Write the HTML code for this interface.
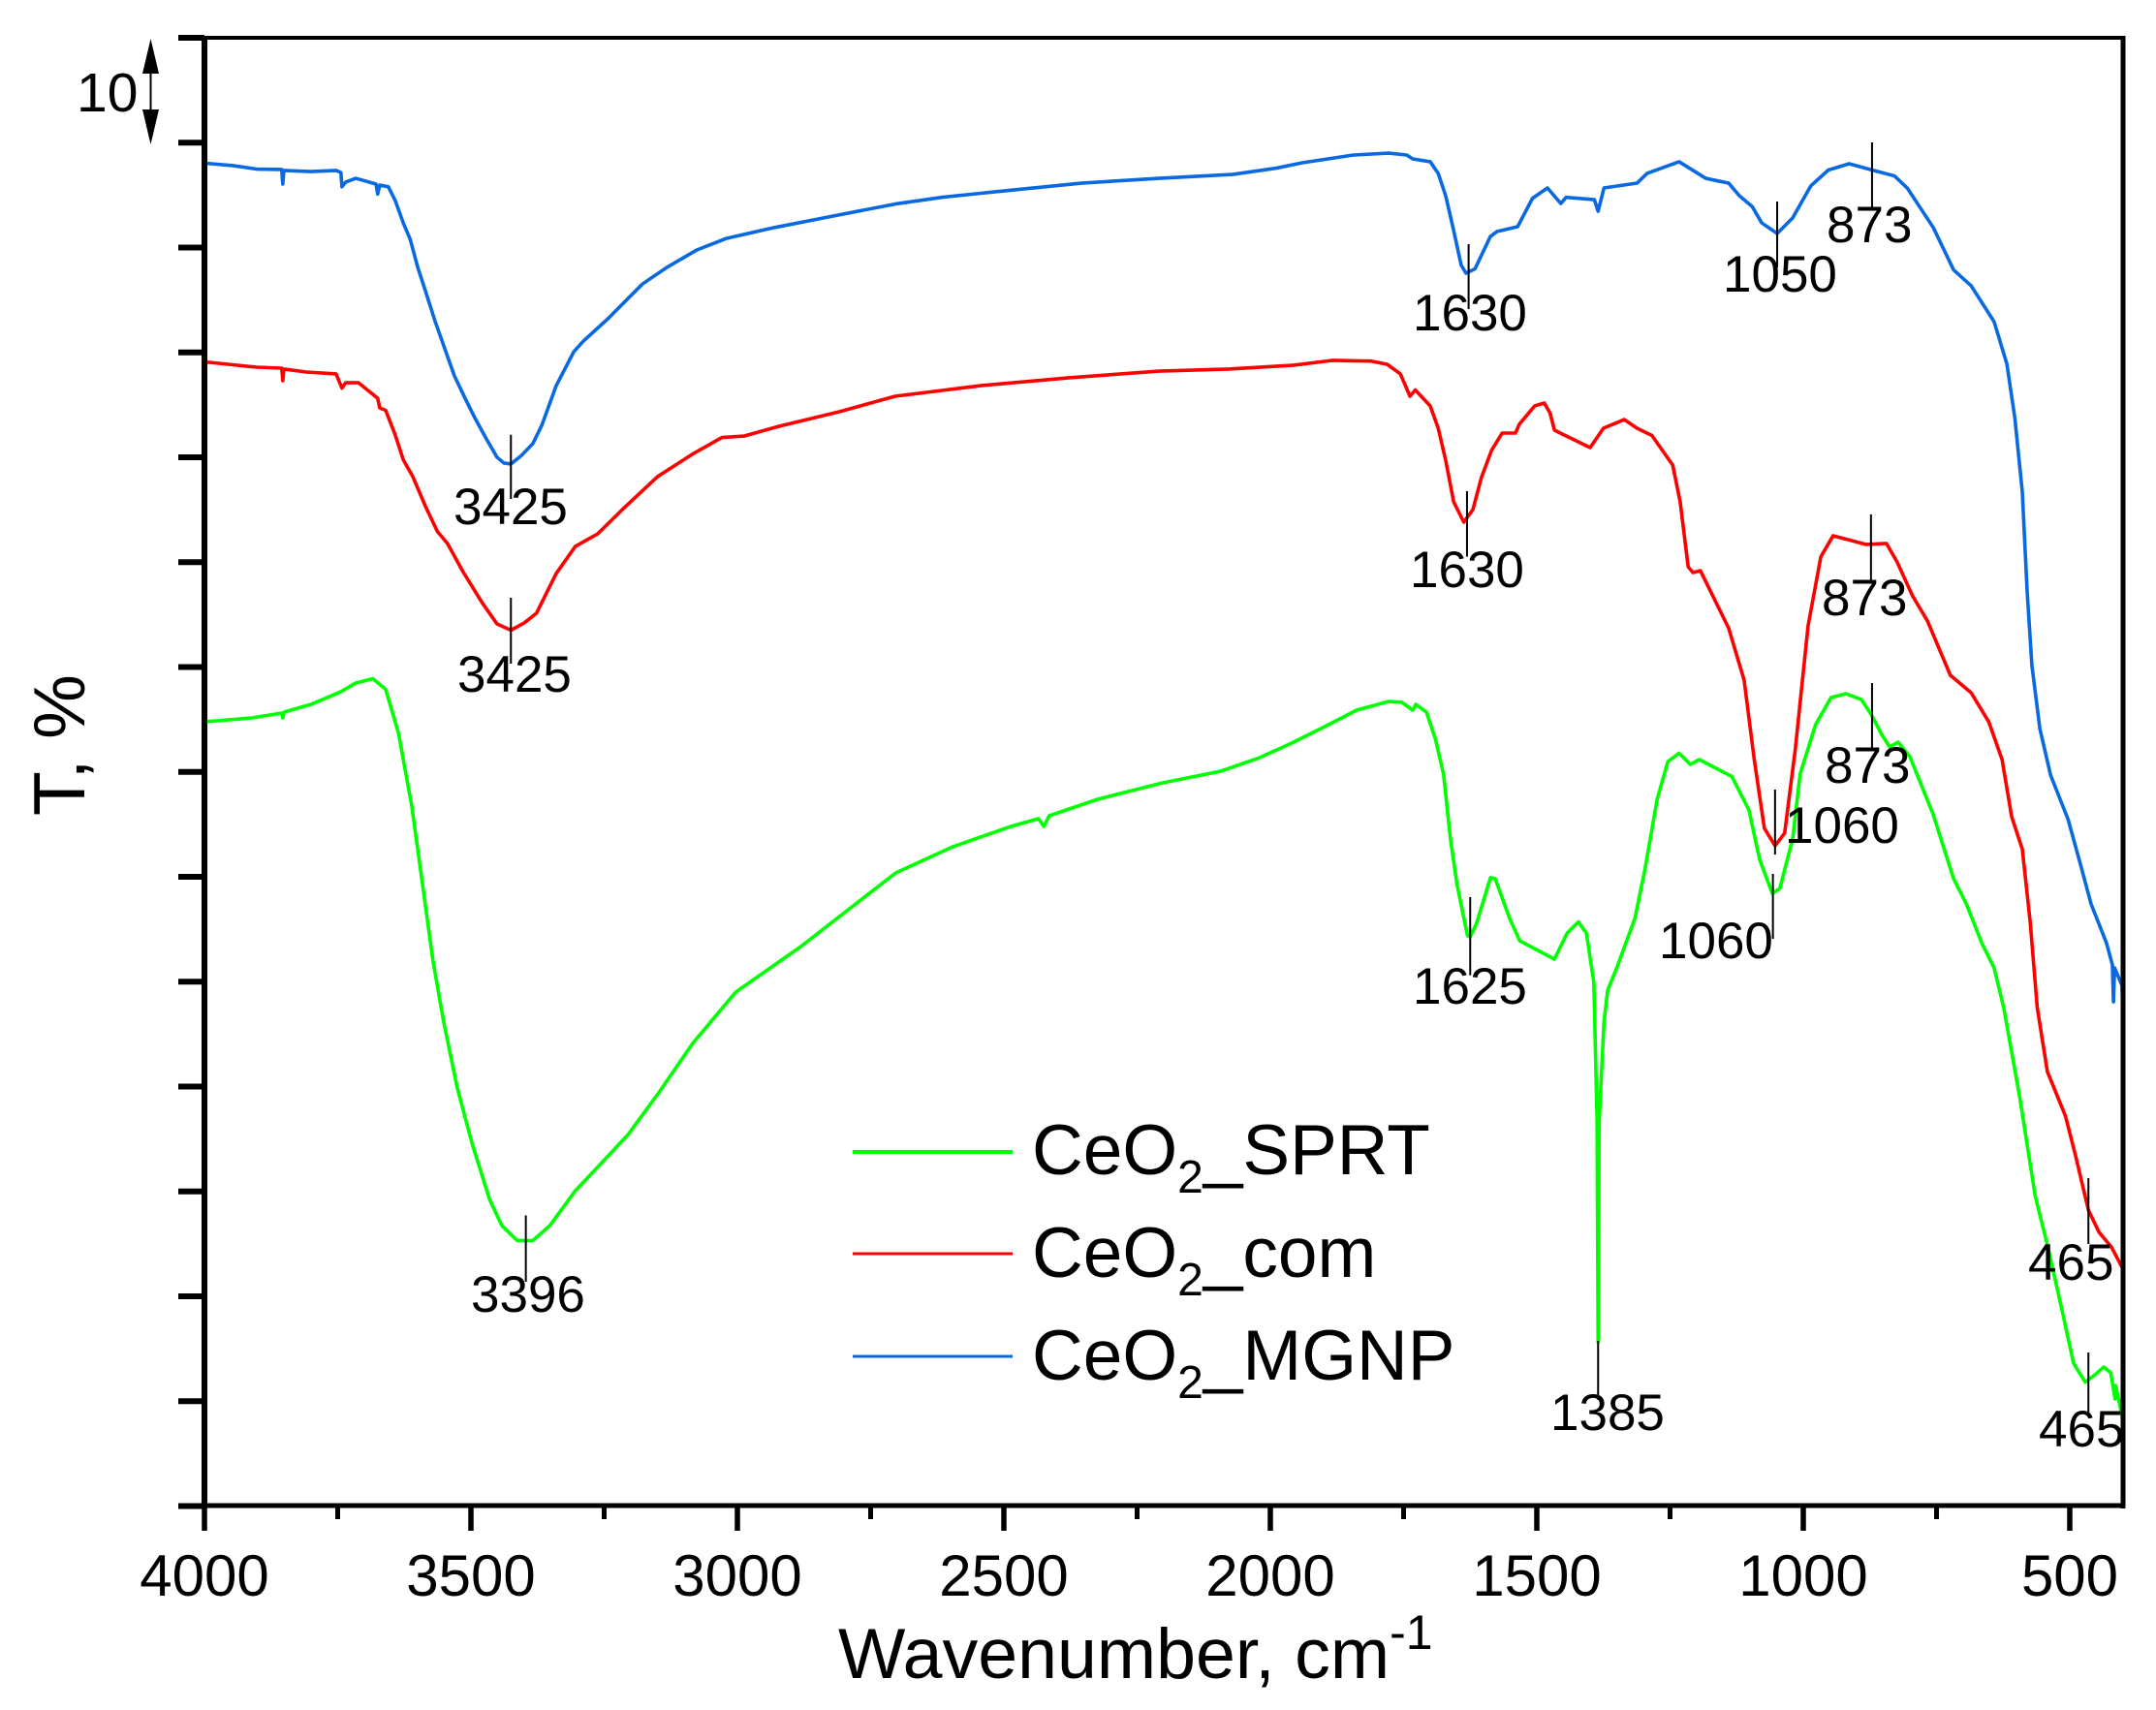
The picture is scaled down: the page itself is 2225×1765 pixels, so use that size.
<!DOCTYPE html>
<html>
<head>
<meta charset="utf-8">
<title>FTIR spectra of CeO2 samples</title>
<style>
html,body{margin:0;padding:0;background:#fff;}
svg{display:block;font-family:"Liberation Sans",Arial,sans-serif;fill:#000;}
</style>
</head>
<body>
<svg id="chart" xmlns="http://www.w3.org/2000/svg" width="2225" height="1765" viewBox="0 0 2225 1765">
  <rect x="0" y="0" width="2225" height="1765" fill="#fff"/>
  <g id="series"></g>
  <g id="markers"></g>
  <g id="axes"></g>

  <g font-size="53">
    <text x="468" y="541">3425</text>
    <text x="472" y="714">3425</text>
    <text x="486" y="1354">3396</text>
    <text x="1458" y="341">1630</text>
    <text x="1778" y="301">1050</text>
    <text x="1885" y="250">873</text>
    <text x="1455" y="606">1630</text>
    <text x="1880" y="635">873</text>
    <text x="1883" y="808">873</text>
    <text x="1842" y="870">1060</text>
    <text x="1458" y="1036">1625</text>
    <text x="1712" y="989">1060</text>
    <text x="1600" y="1476">1385</text>
    <text x="2093" y="1321">465</text>
    <text x="2104" y="1493">465</text>
  </g>

  <g>
    <g>
      <line x1="880" x2="1045" y1="1189" y2="1189" stroke="#00ff00" stroke-width="4"/>
      <text x="1065" y="1212" font-size="73">CeO<tspan font-size="48" dy="19">2</tspan><tspan dy="-19">_SPRT</tspan></text>
    </g>
    <g>
      <line x1="880" x2="1045" y1="1294" y2="1294" stroke="#ff0000" stroke-width="3"/>
      <text x="1065" y="1318" font-size="73">CeO<tspan font-size="48" dy="19">2</tspan><tspan dy="-19">_com</tspan></text>
    </g>
    <g>
      <line x1="880" x2="1045" y1="1400" y2="1400" stroke="#0869e0" stroke-width="3"/>
      <text x="1065" y="1424" font-size="73">CeO<tspan font-size="48" dy="19">2</tspan><tspan dy="-19">_MGNP</tspan></text>
    </g>
  </g>

  <text x="865" y="1732" font-size="73.5">Wavenumber, cm<tspan font-size="50" dy="-30">-1</tspan></text>
  <text transform="translate(87,842) rotate(-90)" font-size="75">T, %</text>

  <g>
    <text x="79" y="115" font-size="57">10</text>
    <line x1="155.5" x2="155.5" y1="70" y2="118" stroke="#000" stroke-width="2"/>
    <polygon points="155.5,40 147,76 164,76" fill="#000"/>
    <polygon points="155.5,149 147,113 164,113" fill="#000"/>
  </g>
</svg>
<script>
// Category / tick data
const xTickValues = [4000,3500,3000,2500,2000,1500,1000,500];
const xMinorTickValues = [3750,3250,2750,2250,1750,1250,750];
const xTickLabels = ["4000","3500","3000","2500","2000","1500","1000","500"];
const yTickValues = [0,10,20,30,40,50,60,70,80,90,100,110,120,130,140];

// CeO2_MGNP
const blueWave = [4000,3947,3902,3855,3853,3851,3800,3753,3744,3742,3735,3716,3678,3675,3671,3655,3642,3627,3614,3600,3585,3567,3549,3531,3511,3493,3470,3451,3438,3425,3405,3384,3367,3340,3307,3289,3243,3178,3131,3076,3020,2931,2825,2704,2615,2500,2355,2209,2071,1989,1940,1844,1778,1744,1733,1700,1685,1671,1656,1642,1633,1616,1587,1575,1536,1508,1480,1455,1445,1392,1385,1374,1312,1293,1233,1183,1140,1120,1096,1078,1049,1020,986,953,914,871,829,805,756,718,685,642,618,603,589,580,571,556,536,503,480,460,431,420,418,416,402,400];
const blueT = [128.05,127.81,127.48,127.44,126.05,127.35,127.25,127.35,127.16,125.79,126.24,126.6,126.05,125.1,125.96,125.79,124.48,122.35,120.79,118.15,115.8,112.93,110.35,107.76,105.63,103.79,101.66,100,99.45,99.36,100.18,101.29,103.05,106.83,110.06,111.08,113.21,116.53,118.15,119.77,120.88,121.9,122.96,124.15,124.8,125.4,126.14,126.6,126.97,127.57,128.08,128.82,129,128.82,128.45,128.18,127.07,124.94,121.62,118.34,117.55,117.97,121.06,121.52,121.99,124.7,125.68,124.2,124.79,124.57,123.46,125.68,126.14,127.07,128.18,126.6,126.14,124.94,123.92,122.35,121.34,122.82,125.87,127.39,127.99,127.39,126.83,125.68,121.9,117.87,116.35,112.93,108.91,103.73,96.67,87.25,80.14,74.1,69.7,65.45,61.2,57.41,53.67,51.6,48.08,51.32,49.65,46.6];

// CeO2_com
const redWave = [4000,3947,3902,3855,3853,3851,3809,3753,3742,3735,3711,3675,3671,3660,3642,3627,3609,3585,3563,3544,3516,3479,3451,3425,3400,3377,3340,3304,3262,3215,3150,3085,3029,2987,2922,2809,2704,2542,2378,2209,2078,1956,1884,1811,1781,1756,1738,1728,1700,1685,1671,1656,1637,1620,1604,1585,1565,1540,1533,1504,1486,1475,1467,1456,1400,1375,1336,1312,1284,1245,1231,1216,1207,1193,1140,1111,1092,1073,1053,1035,1015,991,967,944,882,844,824,795,767,724,685,652,627,609,589,574,561,542,508,489,465,445,422,400];
const redT = [109.1,108.82,108.59,108.5,107.3,108.41,108.13,107.95,106.6,107.11,107.11,105.63,104.7,104.48,102.13,99.77,98.15,95.29,92.93,91.78,89.19,86.14,84.11,83.51,84.21,85.13,88.92,91.51,92.71,95.06,98.15,100.28,101.89,102.03,102.96,104.34,105.82,106.84,107.58,108.22,108.41,108.78,109.24,109.17,108.87,107.95,105.82,106.42,104.9,102.77,99.72,95.75,93.81,95.01,98.06,100.65,102.31,102.31,103.14,104.9,105.18,104.2,102.6,102.31,100.92,102.77,103.6,102.77,102.08,99.26,95.75,89.56,89.01,89.19,83.7,78.75,71.18,64.62,62.96,64.16,72.15,83.93,90.53,92.52,91.69,91.78,90.02,86.79,84.39,79.21,77.55,74.78,71.18,65.73,62.63,55.57,47.53,41.43,37.18,33.39,28.22,26.1,24.71,22.59];

// CeO2_SPRT
const greenWave = [4000,3911,3855,3853,3851,3800,3744,3716,3684,3660,3636,3611,3591,3571,3551,3526,3498,3465,3442,3413,3384,3352,3304,3262,3205,3149,3084,3003,2881,2703,2596,2487,2435,2425,2415,2324,2202,2093,2020,1960,1898,1838,1778,1753,1733,1727,1707,1690,1675,1662,1650,1630,1625,1613,1587,1578,1551,1532,1498,1467,1443,1422,1407,1393,1387,1385,1383,1374,1367,1350,1316,1297,1274,1254,1233,1212,1195,1134,1102,1082,1058,1044,1020,1006,977,948,920,891,872,853,838,822,800,756,718,694,665,642,624,594,565,542,513,493,471,455,436,423,415,414,400];
const greenT = [74.78,75.15,75.61,75.15,75.7,76.44,77.65,78.48,78.89,77.88,73.72,66.74,59.35,51.92,46.14,39.95,34.6,29.24,26.74,25.31,25.31,26.74,30.07,32.33,35.43,39.31,44.11,49.01,53.35,60.37,62.86,64.8,65.54,64.8,65.82,67.39,68.96,70.07,71.36,72.75,74.32,75.89,76.72,76.63,75.89,76.44,75.7,73.09,69.77,63.6,59.35,54.37,54.27,55.57,59.91,59.81,56.03,53.9,52.98,52.15,54.64,55.7,54.64,49.93,36.72,15.66,36.72,46.14,49.19,51.32,56.03,60.74,67.44,70.99,71.78,70.72,71.18,69.56,66.37,61.66,58.39,58.89,63.6,69.79,74.5,77.09,77.46,76.9,75.43,73.58,72.38,72.84,71.46,65.91,59.82,57.41,53.67,51.32,47.53,39.03,29.61,24.9,18.34,13.63,11.82,12.43,13.26,12.7,10.21,11.5,8.17];

// Peak assignment markers: wavenumber, upper T, lower T
const peakNames = ["blue-3425","red-3425","blue-1630","blue-1050","blue-873","red-1630","red-873","green-873","red-1060","green-1625","green-1060","green-1385","red-465","green-465","green-3396"];
const peakWaves = [3425,3425,1628,1049,871,1631,873,871,1053,1625,1057,1385,465,465,3397];
const peakUpperT = [102.15,86.6,120.32,124.39,130.02,96.77,94.55,78.48,68.31,58.06,60.28,15.75,31.27,14.64,27.71];
const peakLowerT = [96.03,80.32,114.13,118.11,123.74,90.53,88.27,72.29,62.12,50.61,54.09,10.12,24.99,8.91,21.39];

const SVG_NS = "http://www.w3.org/2000/svg";
function xScale(w){ return 211 + (4000 - w) * 0.55; }
function yScale(t){ return 1554.5 - t * 10.825; }

function buildPath(waves, values){
  let d = "";
  for (let i = 0; i < waves.length; i++){
    d += (i ? "L" : "M") + xScale(waves[i]).toFixed(2) + " " + yScale(values[i]).toFixed(2);
  }
  return d;
}

function drawSeries(name, waves, values, colour){
  const p = document.createElementNS(SVG_NS, "path");
  p.setAttribute("d", buildPath(waves, values));
  p.setAttribute("fill", "none");
  p.setAttribute("stroke", colour);
  p.setAttribute("stroke-width", "3.6");
  p.setAttribute("stroke-linejoin", "round");
  
  
  document.getElementById("series").appendChild(p);
}
drawSeries("series-ceo2-sprt", greenWave, greenT, "#00ff00");
drawSeries("series-ceo2-com", redWave, redT, "#ff0000");
drawSeries("series-ceo2-mgnp", blueWave, blueT, "#0869e0");

function addLine(parent, name, x1, y1, x2, y2, width){
  const l = document.createElementNS(SVG_NS, "line");
  l.setAttribute("x1", x1);
  l.setAttribute("y1", y1);
  l.setAttribute("x2", x2);
  l.setAttribute("y2", y2);
  l.setAttribute("stroke", "#000");
  l.setAttribute("stroke-width", width);
  
  
  parent.appendChild(l);
}

const markerGroup = document.getElementById("markers");
peakWaves.forEach(function(w, i){
  addLine(markerGroup, "peak-marker-" + peakNames[i], xScale(w), yScale(peakUpperT[i]), xScale(w), yScale(peakLowerT[i]), 2);
});

const axes = document.getElementById("axes");
addLine(axes, "left-axis-line", 211, 37, 211, 1557, 6);
addLine(axes, "right-axis-line", 2191, 37, 2191, 1557, 5);
addLine(axes, "top-axis-line", 185, 39, 2193, 39, 4);
addLine(axes, "bottom-axis-line", 185, 1554, 2193, 1554, 5);

yTickValues.forEach(function(t){
  addLine(axes, "y-tick-" + t, 184, yScale(t), 211, yScale(t), 6);
});
xTickValues.forEach(function(w, i){
  addLine(axes, "x-tick-" + w, xScale(w), 1554, xScale(w), 1580, 5.5);
  const label = document.createElementNS(SVG_NS, "text");
  label.setAttribute("x", xScale(w));
  label.setAttribute("y", 1647);
  label.setAttribute("text-anchor", "middle");
  label.setAttribute("font-size", "60");
  
  
  label.textContent = xTickLabels[i];
  axes.appendChild(label);
});
xMinorTickValues.forEach(function(w){
  addLine(axes, "x-minor-tick-" + w, xScale(w), 1554, xScale(w), 1568, 5);
});
</script>
</body>
</html>
